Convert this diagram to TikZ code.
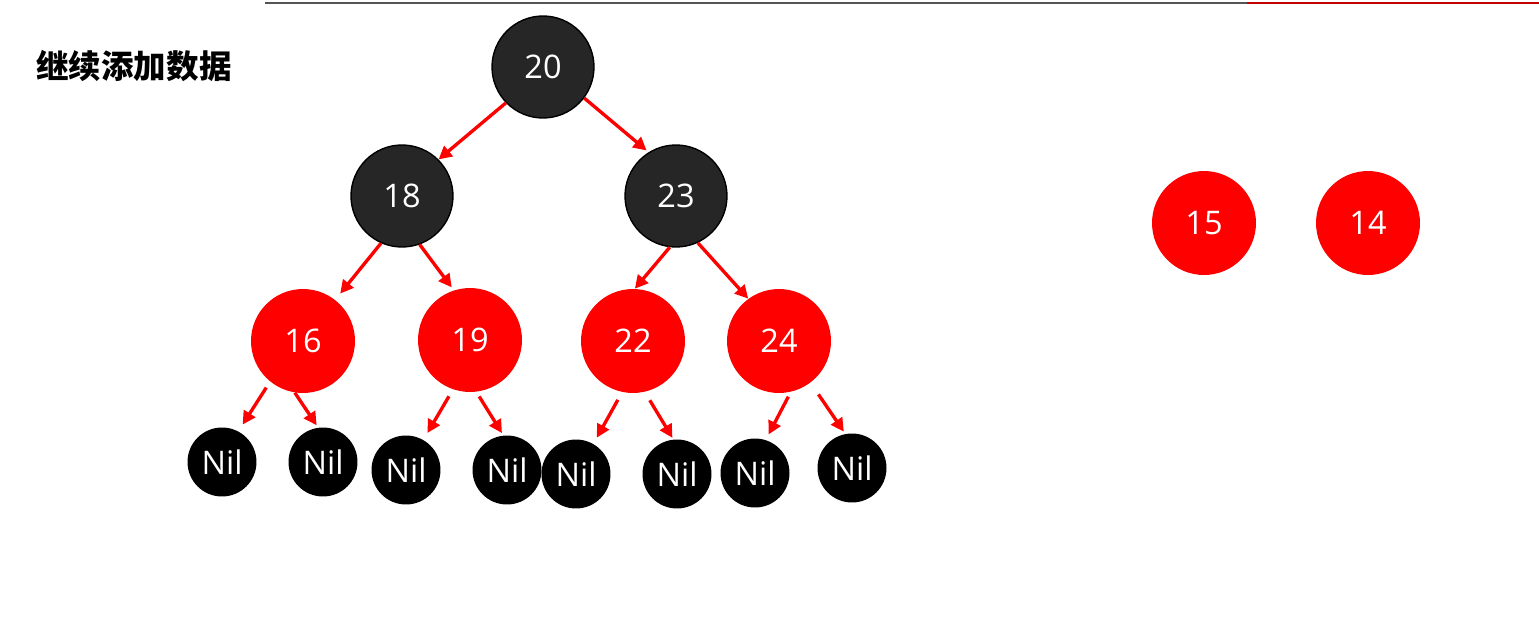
\documentclass[tikz,border=0pt]{standalone}
\usepackage{fontspec}
\setmainfont{Open Sans}
\newfontfamily\cjk{Noto Sans CJK SC}
\usetikzlibrary{arrows.meta}
\definecolor{darknode}{HTML}{262626}
\definecolor{rulegray}{HTML}{555555}
\definecolor{rulered}{HTML}{C00000}
\begin{document}
\begin{tikzpicture}[x=0.02cm,y=-0.02cm,
  blacknode/.style={circle, fill=darknode, draw=black, line width=0.8pt, minimum size=2.04cm, inner sep=0pt, text=white, font=\fontsize{18.5}{20}\selectfont},
  rednode/.style={circle, fill=red, minimum size=2.08cm, inner sep=0pt, text=white, font=\fontsize{18.5}{20}\selectfont},
  nilnode/.style={circle, fill=black, minimum size=1.38cm, inner sep=0pt, text=white, font=\fontsize{18.5}{20}\selectfont},
  edge/.style={red, line width=1.9pt, -{Triangle[length=7.5pt,width=7.5pt]}}]
  \useasboundingbox (0,0) rectangle (1539,619);
  \draw[rulegray, line width=1.5pt] (265,3) -- (1247,3);
  \draw[rulered, line width=1.5pt] (1247,3) -- (1539,3);
  \node[font=\cjk\bfseries\fontsize{18.5}{20}\selectfont] (title) at (134,66) {继续添加数据};
  \node[blacknode] (n20) at (543,67) {20};
  \node[blacknode] (n18) at (402,196) {18};
  \node[blacknode] (n23) at (676,196) {23};
  \node[rednode] (n16) at (303,341) {16};
  \node[rednode] (n19) at (470,340) {19};
  \node[rednode] (n22) at (633,341) {22};
  \node[rednode] (n24) at (779,341) {24};
  \node[rednode] (n15) at (1204,223) {15};
  \node[rednode] (n14) at (1368,223) {14};
  \node[nilnode] (nil1) at (222,462) {Nil};
  \node[nilnode] (nil2) at (323,462) {Nil};
  \node[nilnode] (nil3) at (406,470) {Nil};
  \node[nilnode] (nil4) at (507,470) {Nil};
  \node[nilnode] (nil5) at (576,474) {Nil};
  \node[nilnode] (nil6) at (677,474) {Nil};
  \node[nilnode] (nil7) at (755,473) {Nil};
  \node[nilnode] (nil8) at (852,468) {Nil};
  \draw[edge] (n20.224) -- (n18.45);
  \draw[edge, shorten >=1.5pt] (n20.323) -- (n23.122);
  \draw[edge, shorten >=4.5pt] (n18.246) -- (n16.52);
  \draw[edge, shorten >=2pt] (n18.290) -- (n19.108);
  \draw[edge] (n23.263) -- (n22.88);
  \draw[edge] (n23.295) -- (n24.126);
  \draw[edge, shorten <=4pt, shorten >=4.5pt] (n16.231) -- (nil1.62);
  \draw[edge, shorten >=1.5pt] (n16.261) -- (nil2.98);
  \draw[edge, shorten <=4.5pt, shorten >=4.5pt] (n19.251) -- (nil3.60);
  \draw[edge, shorten <=3pt, shorten >=1.5pt] (n19.277) -- (nil4.96);
  \draw[edge, shorten <=5pt, shorten >=4pt] (n22.258) -- (nil5.60);
  \draw[edge, shorten <=5.5pt, shorten >=1pt] (n22.283) -- (nil6.96);
  \draw[edge, shorten <=3pt, shorten >=3.5pt] (n24.283) -- (nil7.72);
  \draw[edge, shorten <=8pt, shorten >=1.5pt] (n24.307) -- (nil8.101);
\end{tikzpicture}
\end{document}
